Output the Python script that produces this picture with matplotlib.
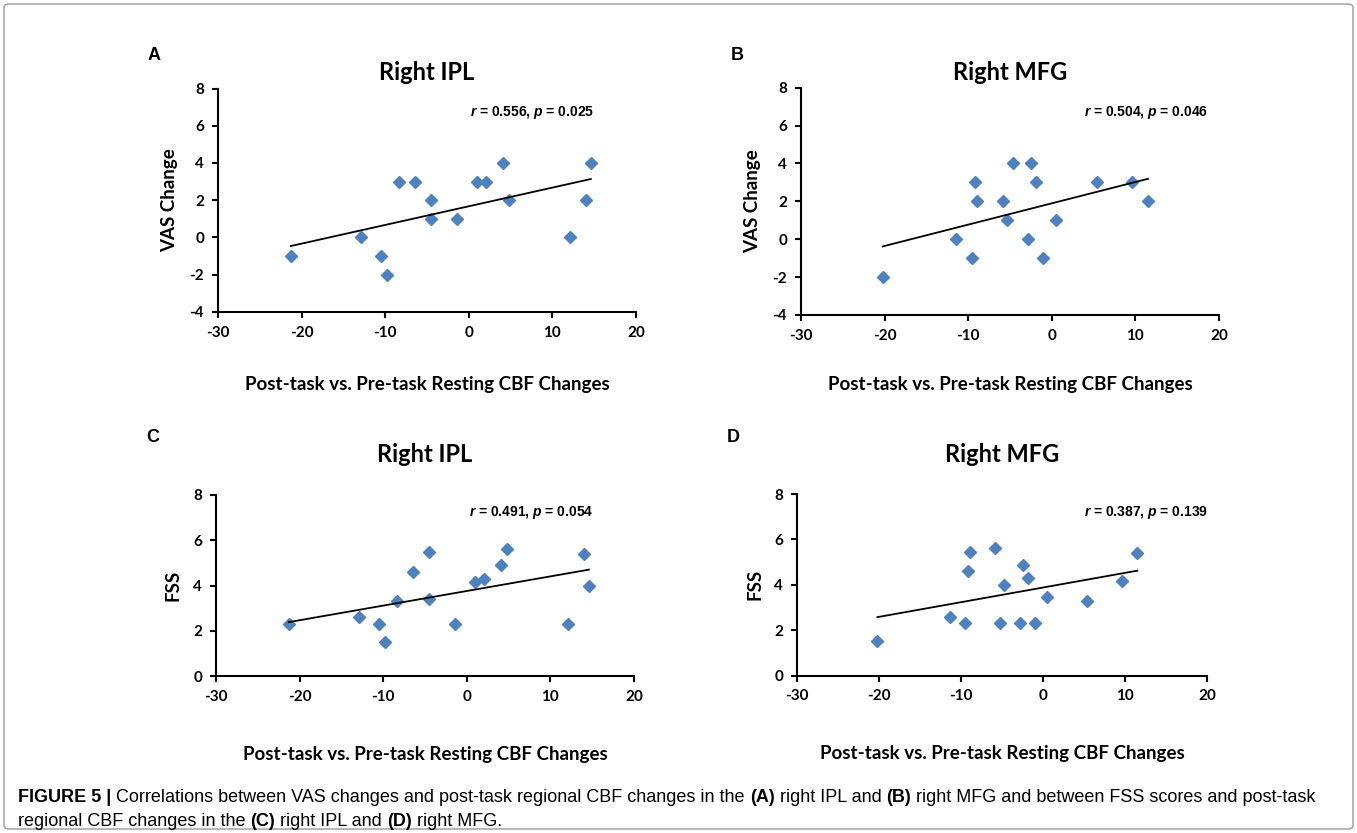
import numpy as np
import matplotlib.pyplot as plt
from matplotlib.patches import FancyBboxPatch

plt.rcParams['axes.unicode_minus'] = False
plt.rcParams['mathtext.fontset'] = 'custom'
plt.rcParams['mathtext.it'] = 'Liberation Sans:italic:bold'
plt.rcParams['mathtext.rm'] = 'Liberation Sans:bold'

# CBF change per subject (right IPL panels A/C, right MFG panels B/D)
ipl_cbf = [-21.3, -12.9, -10.5, -9.8, -8.4, -6.4, -4.5, -4.5, -1.45, 1.0, 2.0, 4.1, 4.8, 12.1, 14.0, 14.6]
ipl_vas = [-1, 0, -1, -2, 3, 3, 2, 1, 1, 3, 3, 4, 2, 0, 2, 4]
ipl_fss = [2.3, 2.6, 2.3, 1.5, 3.3, 4.6, 5.5, 3.4, 2.3, 4.15, 4.3, 4.9, 5.6, 2.3, 5.4, 4.0]

mfg_cbf = [-20.2, -11.4, -9.5, -9.2, -8.9, -5.85, -5.3, -4.7, -2.85, -2.5, -1.85, -1.0, 0.5, 5.4, 9.6, 11.5]
mfg_vas = [-2, 0, -1, 3, 2, 2, 1, 4, 0, 4, 3, -1, 1, 3, 3, 2]
mfg_fss = [1.5, 2.6, 2.3, 4.6, 5.45, 5.6, 2.3, 4.0, 2.3, 4.85, 4.3, 2.3, 3.45, 3.3, 4.15, 5.4]

stats = ['$r$ = 0.556, $p$ = 0.025', '$r$ = 0.504, $p$ = 0.046',
         '$r$ = 0.491, $p$ = 0.054', '$r$ = 0.387, $p$ = 0.139']

W, H = 1357, 833
fig = plt.figure(figsize=(W / 100, H / 100), dpi=100)

def px_axes(x0, x1, ytop, ybot):
    return fig.add_axes([x0 / W, 1 - ybot / H, (x1 - x0) / W, (ybot - ytop) / H])

blue = '#4f81bd'
tick_font = dict(family='Lato', weight='bold', size=11)

panels = [
    # letter, title, x, y, ylabel, ylim, yticks, axes px box, stat, stat anchor px,
    # title y px, xlabel pad
    ('A', 'Right IPL', ipl_cbf, ipl_vas, 'VAS Change', (-4, 8), range(-4, 9, 2),
     (218, 636, 88.6, 311.7), stats[0], (594, 112.7), 73, 26),
    ('B', 'Right MFG', mfg_cbf, mfg_vas, 'VAS Change', (-4, 8), range(-4, 9, 2),
     (801, 1219, 87.7, 315), stats[1], (1208, 112.7), 73, 24),
    ('C', 'Right IPL', ipl_cbf, ipl_fss, 'FSS', (0, 8), range(0, 9, 2),
     (216, 634, 494.8, 676.4), stats[2], (594, 512.3), 455, 30),
    ('D', 'Right MFG', mfg_cbf, mfg_fss, 'FSS', (0, 8), range(0, 9, 2),
     (797, 1207, 494, 675.5), stats[3], (1208, 512.3), 455, 30),
]

for letter, title, xs, ys, ylab, ylim, yt, box, st, st_xy, ty, xpad in panels:
    ax = px_axes(*box)
    xs = np.array(xs)
    ys = np.array(ys)
    ax.plot(xs, ys, 'D', color=blue, ms=6.5, mec=blue)
    k, b = np.polyfit(xs, ys, 1)
    xl = np.array([xs.min(), xs.max()])
    ax.plot(xl, k * xl + b, color='black', lw=1.3)
    ax.set_xlim(-30, 20)
    ax.set_ylim(*ylim)
    ax.set_xticks(range(-30, 21, 10))
    ax.set_yticks(list(yt))
    for s in ['top', 'right']:
        ax.spines[s].set_visible(False)
    for s in ['left', 'bottom']:
        ax.spines[s].set_linewidth(1.5)
    ax.tick_params(direction='out', length=4, width=1.5, pad=6)
    for lab in ax.get_xticklabels() + ax.get_yticklabels():
        lab.set(**tick_font)
    ax.set_xlabel('Post-task vs. Pre-task Resting CBF Changes', family='Lato',
                  weight='bold', size=13.5, labelpad=xpad)
    ax.set_ylabel(ylab, family='Lato', weight='bold', size=13.5, labelpad=8)
    fig.text((box[0] + box[1]) / 2 / W, 1 - ty / H, title, family='Lato',
             weight='bold', size=17, ha='center', va='center')
    fig.text(st_xy[0] / W, 1 - st_xy[1] / H, st, ha='right', va='center',
             family='Liberation Sans', weight='bold', size=10)
    fig.text((box[0] - 70) / W, 1 - (ty - 18) / H, letter, family='Liberation Sans',
             weight='bold', size=13, ha='left', va='center')

fig.patches.append(FancyBboxPatch((4 / W, 4 / H), 1 - 8 / W, 1 - 8 / H,
                                  boxstyle='round,pad=0,rounding_size=0.004',
                                  transform=fig.transFigure, fill=False,
                                  ec='#9a9a9a', lw=1))

# caption, written as runs of regular / bold text
cap_lines = [
    [('FIGURE 5 | ', True), ('Correlations between VAS changes and post-task regional CBF changes in the ', False),
     ('(A)', True), (' right IPL and ', False), ('(B)', True),
     (' right MFG and between FSS scores and post-task', False)],
    [('regional CBF changes in the ', False), ('(C)', True), (' right IPL and ', False),
     ('(D)', True), (' right MFG.', False)],
]
renderer = fig.canvas.get_renderer()

def put_line(parts, y, size, draw=True):
    x = 18
    arts = []
    for txt, bold in parts:
        t = fig.text(x / W, 1 - y / H, txt, family='Liberation Sans', size=size,
                     weight='bold' if bold else 'normal', va='center')
        x += t.get_window_extent(renderer).width
        arts.append(t)
    if not draw:
        for t in arts:
            t.remove()
    return x - 18

w0 = put_line(cap_lines[0], 797, 12, draw=False)
cap_size = 12 * 1300 / w0
put_line(cap_lines[0], 797, cap_size)
put_line(cap_lines[1], 822, cap_size)

fig.savefig('out.png', dpi=100)
